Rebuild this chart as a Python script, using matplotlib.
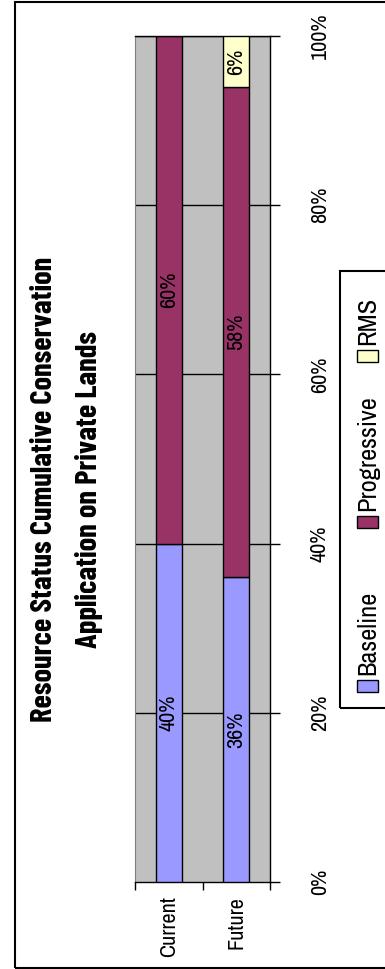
import matplotlib
matplotlib.use("Agg")
import matplotlib.pyplot as plt
from matplotlib.patches import Rectangle

categories = ["Current", "Future"]
series_names = ["Baseline", "Progressive", "RMS"]
baseline = [40, 36]
progressive = [60, 58]
rms = [0, 6]
value_ticks = [0, 20, 40, 60, 80, 100]
title_lines = ["Resource Status Cumulative Conservation", "Application on Private Lands"]

colors = ["#9999FF", "#993366", "#FFFFCC"]

plt.rcParams["font.family"] = ["Archivo Narrow", "DejaVu Sans"]
TITLE_FONT = ["Barlow Condensed", "DejaVu Sans"]
FS = 16

W, H = 385, 969
fig = plt.figure(figsize=(W / 100, H / 100), dpi=100)


def fx(x):
    return x / W


def fy(y):
    return 1 - y / H


# plot area (the whole chart is turned on its side, so bars stand upright)
ax = fig.add_axes([fx(135), fy(882), fx(270) - fx(135), fy(36) - fy(882)])
ax.set_facecolor("#C0C0C0")

xs = range(len(categories))
bottom = [0] * len(categories)
for name, vals, c in zip(series_names, [baseline, progressive, rms], colors):
    bars = ax.bar(xs, vals, width=0.39, bottom=bottom, color=c,
                  edgecolor="black", linewidth=1.0, zorder=3, label=name)
    ax.bar_label(bars, labels=[f"{v}%" for v in vals], label_type="center",
                 rotation=90, fontsize=FS, zorder=4)
    bottom = [b + v for b, v in zip(bottom, vals)]

ax.set_xlim(-0.5, len(categories) - 0.5)
ax.set_ylim(0, 100)

for t in value_ticks[1:]:
    ax.axhline(t, color="black", linewidth=1.0, zorder=1)

ax.yaxis.tick_right()
ax.set_yticks(value_ticks)
ax.set_yticklabels([f"{t}%" for t in value_ticks], rotation=90, va="center",
                   ha="center", fontsize=FS)
ax.tick_params(axis="y", direction="out", length=7, width=1, pad=29)

ax.set_xticks(list(xs))
ax.set_xticklabels(categories, rotation=90, fontsize=FS, va="top", ha="center")
ax.set_xticks([-0.5, 0.5, 1.5], minor=True)
ax.tick_params(axis="x", which="major", length=0, pad=10)
ax.tick_params(axis="x", which="minor", direction="out", length=6, width=1)

for side in ["right", "bottom", "top"]:
    ax.spines[side].set_color("black")
    ax.spines[side].set_linewidth(1.0)
ax.spines["left"].set_color("#808080")

# title
fig.text(fx(45), fy(489), title_lines[0], rotation=90, ha="center", va="center",
         fontsize=22, fontweight="bold", family=TITLE_FONT)
fig.text(fx(89), fy(489), title_lines[1], rotation=90, ha="center", va="center",
         fontsize=22, fontweight="bold", family=TITLE_FONT)

# legend, drawn by hand because it is turned as well
fig.patches.append(Rectangle((fx(340), fy(708)), fx(400) - fx(340), fy(271) - fy(708),
                             transform=fig.transFigure, fill=False, edgecolor="black",
                             linewidth=1.5, clip_on=False))
entry_y = [692, 528, 362]
for name, c, y0 in zip(series_names, colors, entry_y):
    fig.patches.append(Rectangle((fx(357), fy(y0)), fx(378) - fx(357), fy(y0 - 12) - fy(y0),
                                 transform=fig.transFigure, facecolor=c,
                                 edgecolor="black", linewidth=1.0))
    fig.text(fx(368), fy(y0 - 17), name, rotation=90, ha="center", va="bottom",
             fontsize=19)

# outer chart border
fig.patches.append(Rectangle((fx(15), fy(968)), fx(400) - fx(15), fy(2) - fy(968),
                             transform=fig.transFigure, fill=False, edgecolor="black",
                             linewidth=1.5))

fig.savefig("out.png", dpi=100)
